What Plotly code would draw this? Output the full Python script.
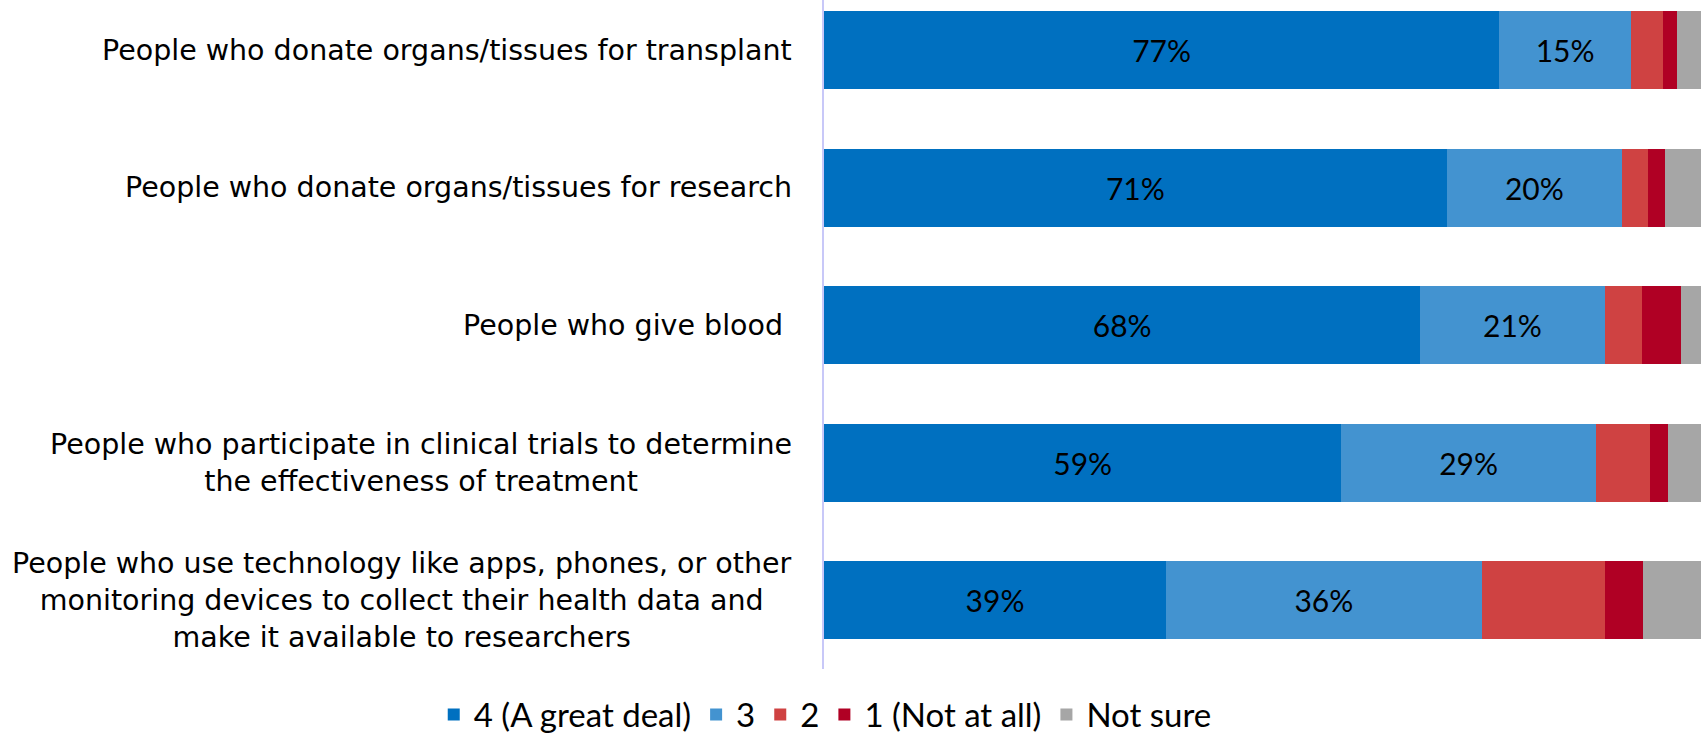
import plotly.graph_objects as go

# categories (top to bottom)
categorias = [
    "People who donate organs/tissues for transplant",
    "People who donate organs/tissues for research",
    "People who give blood ",
    "People who participate in clinical trials to determine<br>the effectiveness of treatment",
    "People who use technology like apps, phones, or other<br>monitoring devices to collect their health data and<br>make it available to researchers",
]

serie_4 = [77, 71, 68, 59, 39]
serie_3 = [15, 20, 21, 29, 36]
serie_2 = [3.7, 3.0, 4.3, 6.2, 14.0]
serie_1 = [1.6, 1.9, 4.4, 2.0, 4.4]
no_seguro = [2.7, 4.1, 2.3, 3.8, 6.6]

nombres = ["4 (A great deal)", "3", "2", "1 (Not at all)", "Not sure"]
colores = ["#0070C0", "#4393D0", "#CF4242", "#B00024", "#A6A6A6"]

FUENTE_ETQ = "DejaVu Sans"
FUENTE_NUM = "Lato, sans-serif"

ids = list(range(len(categorias)))

fig = go.Figure()
for i, (nombre, valores, color) in enumerate(zip(nombres, [serie_4, serie_3, serie_2, serie_1, no_seguro], colores)):
    mostrar = i < 2
    fig.add_trace(go.Bar(
        y=ids, x=valores, name=nombre, orientation='h',
        marker=dict(color=color, line=dict(width=0)),
        text=[f"{v:.0f}%" for v in valores] if mostrar else None,
        textposition='inside' if mostrar else 'none',
        insidetextanchor='middle',
        textfont=dict(family=FUENTE_NUM, size=30, color='black'),
        hoverinfo='x+name',
    ))

# etiquetas de categoría como anotaciones (centradas entre líneas)
for i, cat in enumerate(categorias):
    fig.add_annotation(
        x=0, xref='paper', y=i, yref='y', text=cat, showarrow=False,
        xanchor='right', align='center', xshift=-30,
        font=dict(family=FUENTE_ETQ, size=28.5, color='black'),
    )

fig.update_layout(
    barmode='stack', bargap=0.433,
    width=1701, height=741,
    margin=dict(l=824, r=0, t=0, b=72, autoexpand=False),
    plot_bgcolor='white', paper_bgcolor='white',
    legend=dict(orientation='h', x=-0.445, xanchor='left', y=-0.068, yanchor='middle',
                font=dict(family=FUENTE_NUM, size=33, color='black'),
                traceorder='normal', itemclick=False),
)
fig.update_xaxes(range=[0, 100], visible=False)
fig.update_yaxes(range=[4.5, -0.365], showticklabels=False, showgrid=False, zeroline=False,
                 showline=True, linecolor='#C8C8F8', linewidth=2)

fig.write_html("out.html", config={'displayModeBar': False},
               post_script="document.body.style.margin='0';document.body.style.overflow='hidden';")
